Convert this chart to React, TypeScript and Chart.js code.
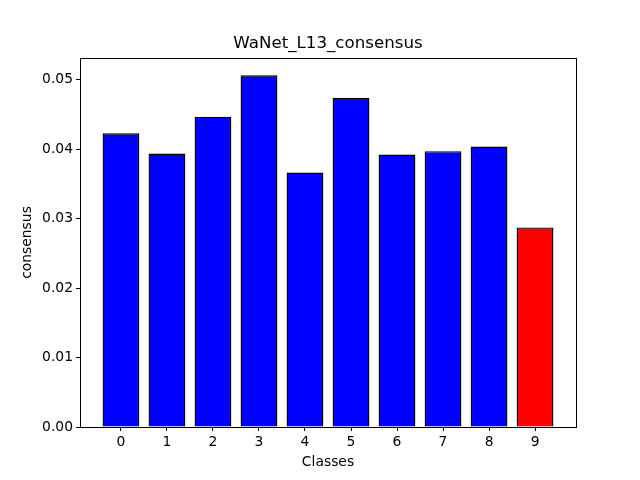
import React, { useEffect, useRef } from "react";
import { Chart, registerables } from "chart.js";

Chart.register(...registerables);

const classes = [0, 1, 2, 3, 4, 5, 6, 7, 8, 9];
const consensus = [0.04228, 0.03937, 0.04468, 0.05062, 0.03663, 0.04741, 0.03922, 0.0397, 0.04037, 0.02873];
const barColors = ["blue", "blue", "blue", "blue", "blue", "blue", "blue", "blue", "blue", "red"];
const yTicks = [0, 0.01, 0.02, 0.03, 0.04, 0.05];
const titleText = "WaNet_L13_consensus";
const xLabel = "Classes";
const yLabel = "consensus";

const FONT = "'DejaVu Sans', sans-serif";

const framePlugin = {
  id: "frame",
  afterDraw(chart: any) {
    const { ctx, chartArea } = chart;
    const l = Math.round(chartArea.left);
    const t = Math.round(chartArea.top);
    const r = Math.round(chartArea.right);
    const b = Math.round(chartArea.bottom);
    ctx.save();
    ctx.strokeStyle = "#000";
    ctx.lineWidth = 1;
    ctx.strokeRect(l + 0.5, t + 0.5, r - l, b - t);
    ctx.fillStyle = "#000";
    ctx.font = `16.67px ${FONT}`;
    ctx.textAlign = "center";
    ctx.textBaseline = "middle";
    ctx.fillText(titleText, (chartArea.left + chartArea.right) / 2, 44);
    ctx.restore();
  },
};

export default function App() {
  const ref = useRef<HTMLCanvasElement>(null);
  useEffect(() => {
    const canvas = ref.current;
    if (!canvas) return;
    const chart = new Chart(canvas, {
      type: "bar",
      data: {
        datasets: [
          {
            data: classes.map((c, i) => ({ x: c, y: consensus[i] })),
            backgroundColor: barColors,
            borderColor: "#000",
            borderWidth: 1.4,
            barPercentage: 0.8,
            categoryPercentage: 1,
          },
        ],
      },
      options: {
        animation: false,
        responsive: false,
        maintainAspectRatio: false,
        layout: { padding: { left: 0, right: 64, top: 58, bottom: 0 } },
        plugins: {
          legend: { display: false },
          tooltip: { enabled: false },
          title: { display: false },
        },
        scales: {
          x: {
            type: "linear",
            min: -0.89,
            max: 9.89,
            offset: false,
            afterBuildTicks: (scale: any) => {
              scale.ticks = classes.map((v) => ({ value: v }));
            },
            afterFit: (scale: any) => {
              scale.height = 53;
            },
            grid: {
              display: true,
              offset: false,
              drawOnChartArea: false,
              drawTicks: true,
              tickLength: 4,
              tickColor: "#000",
            },
            border: { display: true, color: "#000" },
            ticks: {
              color: "#000",
              font: { family: FONT, size: 13.89 },
              padding: 3,
              maxRotation: 0,
              autoSkip: false,
            },
            title: {
              display: true,
              text: xLabel,
              color: "#000",
              font: { family: FONT, size: 13.89, lineHeight: 1 },
              padding: { top: 0, bottom: 11 },
            },
          },
          y: {
            type: "linear",
            min: 0,
            max: 0.05312,
            afterBuildTicks: (scale: any) => {
              scale.ticks = yTicks.map((v) => ({ value: v }));
            },
            afterFit: (scale: any) => {
              scale.width = 80;
            },
            grid: {
              display: true,
              offset: false,
              drawOnChartArea: false,
              drawTicks: true,
              tickLength: 4,
              tickColor: "#000",
            },
            border: { display: true, color: "#000" },
            ticks: {
              color: "#000",
              font: { family: FONT, size: 13.89 },
              padding: 3,
              callback: (v: any) => Number(v).toFixed(2),
            },
            title: {
              display: true,
              text: yLabel,
              color: "#000",
              font: { family: FONT, size: 13.89, lineHeight: 1 },
              padding: { top: 20, bottom: 20 },
            },
          },
        },
      },
      plugins: [framePlugin],
    } as any);
    return () => chart.destroy();
  }, []);
  return (
    <div style={{ position: "fixed", left: 0, top: 0, width: 640, height: 480, background: "#fff" }}>
      <canvas ref={ref} width={640} height={480} style={{ width: 640, height: 480 }} />
    </div>
  );
}
